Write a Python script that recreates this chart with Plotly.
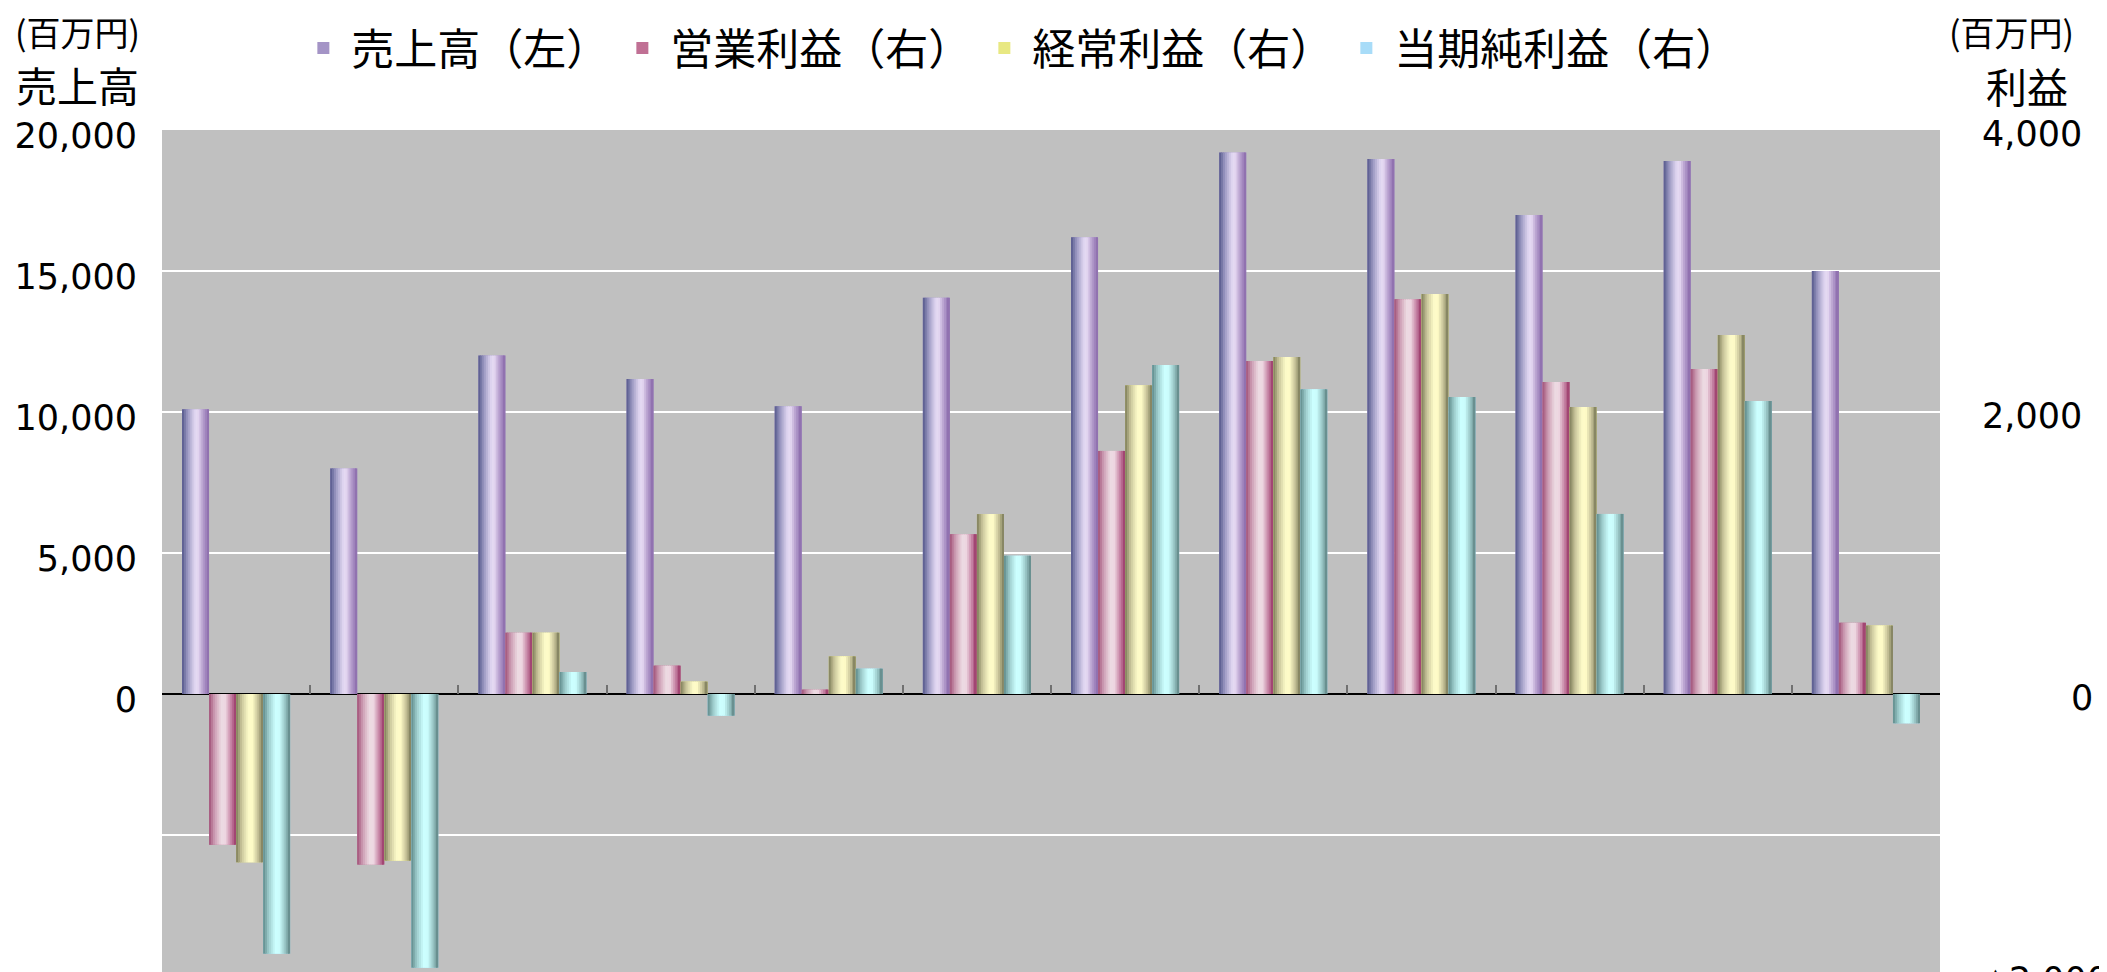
import plotly.graph_objects as go

# ---------------- data ----------------
periods = ["第1期", "第2期", "第3期", "第4期", "第5期", "第6期",
           "第7期", "第8期", "第9期", "第10期", "第11期", "第12期"]
sales = [10100, 8000, 12000, 11170, 10200, 14050, 16200, 19200, 18970, 16990, 18900, 15000]      # 売上高（左）
operating_income = [-1069, -1210, 435, 201, 31, 1133, 1724, 2362, 2800, 2213, 2305, 505]         # 営業利益（右）
ordinary_income = [-1194, -1182, 435, 88, 267, 1276, 2190, 2390, 2837, 2035, 2546, 486]          # 経常利益（右）
net_income = [-1842, -1941, 156, -154, 180, 981, 2333, 2162, 2106, 1277, 2078, -208]             # 当期純利益（右）

left_ticks = [-5000, 0, 5000, 10000, 15000, 20000]
left_ticktext = ["", "0", "5,000", "10,000", "15,000", "20,000"]
right_ticks = [-2000, 0, 2000, 4000]
right_ticktext = ["▲2,000", "\u00a0" * 8 + "0", "2,000", "4,000"]

# ---------------- styles ----------------
series = [
    dict(name="売上高（左）", values=sales, axis="y", legend_color="#a494c6",
         stops=[(0, "#54578a"), (0.2, "#9896c0"), (0.45, "#dcd2ee"), (0.58, "#e8dcf4"), (0.78, "#b49ccc"), (1, "#8a6aaa")]),
    dict(name="営業利益（右）", values=operating_income, axis="y2", legend_color="#c07094",
         stops=[(0, "#a05078"), (0.2, "#cc9cb2"), (0.45, "#ecdae2"), (0.6, "#eed8e2"), (0.8, "#c888a8"), (1, "#9a3868")]),
    dict(name="経常利益（右）", values=ordinary_income, axis="y2", legend_color="#e8e882",
         stops=[(0, "#7c7c58"), (0.2, "#c8c49a"), (0.45, "#fcfac8"), (0.6, "#fffcc8"), (0.8, "#c8c49a"), (1, "#7a7a58")]),
    dict(name="当期純利益（右）", values=net_income, axis="y2", legend_color="#a8dcf8",
         stops=[(0, "#5e8a8a"), (0.2, "#9ccaca"), (0.45, "#ccffff"), (0.6, "#ccfefe"), (0.8, "#9cc8c8"), (1, "#5e8484")]),
]

bar_w = 0.1825
group_left = -2 * bar_w
n_strips = 14

y_range = [-10142, 20000]
y2_range = [y_range[0] / 5, y_range[1] / 5]

FIG_W, FIG_H = 2107, 972
M_L, M_R, M_T, M_B = 154, 175, 122, 0
PLOT_W = FIG_W - M_L - M_R
PLOT_H = FIG_H - M_T - M_B


def px_to_paper_x(px):
    return (px - M_L) / PLOT_W


def px_to_paper_y(py):
    return (FIG_H - M_B - py) / PLOT_H


def hex2rgb(h):
    h = h.lstrip("#")
    return [int(h[i:i + 2], 16) for i in (0, 2, 4)]


def interp(stops, t):
    for (t0, c0), (t1, c1) in zip(stops[:-1], stops[1:]):
        if t0 <= t <= t1:
            a = (t - t0) / (t1 - t0) if t1 > t0 else 0
            r0, r1 = hex2rgb(c0), hex2rgb(c1)
            return "rgb(%d,%d,%d)" % tuple(round(r0[i] + (r1[i] - r0[i]) * a) for i in range(3))
    return stops[-1][1]


fig = go.Figure()
for si, s in enumerate(series):
    left = group_left + si * bar_w
    # base bar (also the legend swatch)
    fig.add_trace(go.Bar(
        x=periods, y=s["values"], yaxis=s["axis"], name=s["name"],
        width=bar_w, offset=left, marker=dict(color=s["legend_color"], line=dict(width=0)),
        legendgroup=s["name"], showlegend=True,
        hovertemplate="%{x}<br>" + s["name"] + ": %{y:,}<extra></extra>",
    ))
    step = bar_w / n_strips
    for k in range(n_strips):
        t = (k + 0.5) / n_strips
        w = step * 1.4 if k < n_strips - 1 else step
        fig.add_trace(go.Bar(
            x=periods, y=s["values"], yaxis=s["axis"], name=s["name"],
            width=w, offset=left + k * step,
            marker=dict(color=interp(s["stops"], t), line=dict(width=0)),
            legendgroup=s["name"], showlegend=False, hoverinfo="skip",
        ))

zero_frac = (0 - y_range[0]) / (y_range[1] - y_range[0])
num_font = "DejaVu Sans, Verdana, sans-serif"
cjk = "Noto Sans CJK JP"

fig.update_layout(
    width=FIG_W, height=FIG_H,
    margin=dict(l=M_L, r=M_R, t=M_T, b=M_B, autoexpand=False),
    paper_bgcolor="white", plot_bgcolor="#c0c0c0",
    barmode="overlay",
    font=dict(family=num_font, size=35, color="black"),
    xaxis=dict(type="category", range=[-0.5, 11.5], showticklabels=False,
               ticks="inside", tickson="boundaries", ticklen=9, tickwidth=2, tickcolor="#707070",
               showgrid=False, showline=False, zeroline=False,
               anchor="free", position=zero_frac),
    yaxis=dict(range=y_range, tickmode="array", tickvals=left_ticks, ticktext=left_ticktext,
               showgrid=True, gridcolor="white", gridwidth=2,
               zeroline=True, zerolinecolor="black", zerolinewidth=2,
               showline=False, ticks="", ticklabelstandoff=24, ticklabelshift=6,
               tickfont=dict(size=35, family=num_font)),
    yaxis2=dict(range=y2_range, overlaying="y", side="right", tickmode="array",
                tickvals=right_ticks, ticktext=right_ticktext,
                showgrid=False, zeroline=False, showline=False, ticks="", ticklabelstandoff=41,
                ticklabelshift=4, ticklabeloverflow="allow",
                tickfont=dict(size=35, family=num_font)),
    legend=dict(orientation="h", xref="container", yref="container",
                x=0.48, xanchor="center", y=1 - 40 / FIG_H, yanchor="middle",
                font=dict(family=cjk, size=43, color="black"),
                bgcolor="rgba(0,0,0,0)", itemwidth=46, traceorder="normal"),
    showlegend=True,
)

fig.add_annotation(text="(百万円)", xref="paper", yref="paper", x=px_to_paper_x(69), y=px_to_paper_y(23),
                   xanchor="center", yanchor="middle", showarrow=False, font=dict(family=cjk, size=34))
fig.add_annotation(text="売上高", xref="paper", yref="paper", x=px_to_paper_x(69), y=px_to_paper_y(76),
                   xanchor="center", yanchor="middle", showarrow=False, font=dict(family=cjk, size=41))
fig.add_annotation(text="(百万円)", xref="paper", yref="paper", x=px_to_paper_x(2003), y=px_to_paper_y(23),
                   xanchor="center", yanchor="middle", showarrow=False, font=dict(family=cjk, size=34))
fig.add_annotation(text="利益", xref="paper", yref="paper", x=px_to_paper_x(2019), y=px_to_paper_y(77),
                   xanchor="center", yanchor="middle", showarrow=False, font=dict(family=cjk, size=41))

fig.write_html("out.html")
